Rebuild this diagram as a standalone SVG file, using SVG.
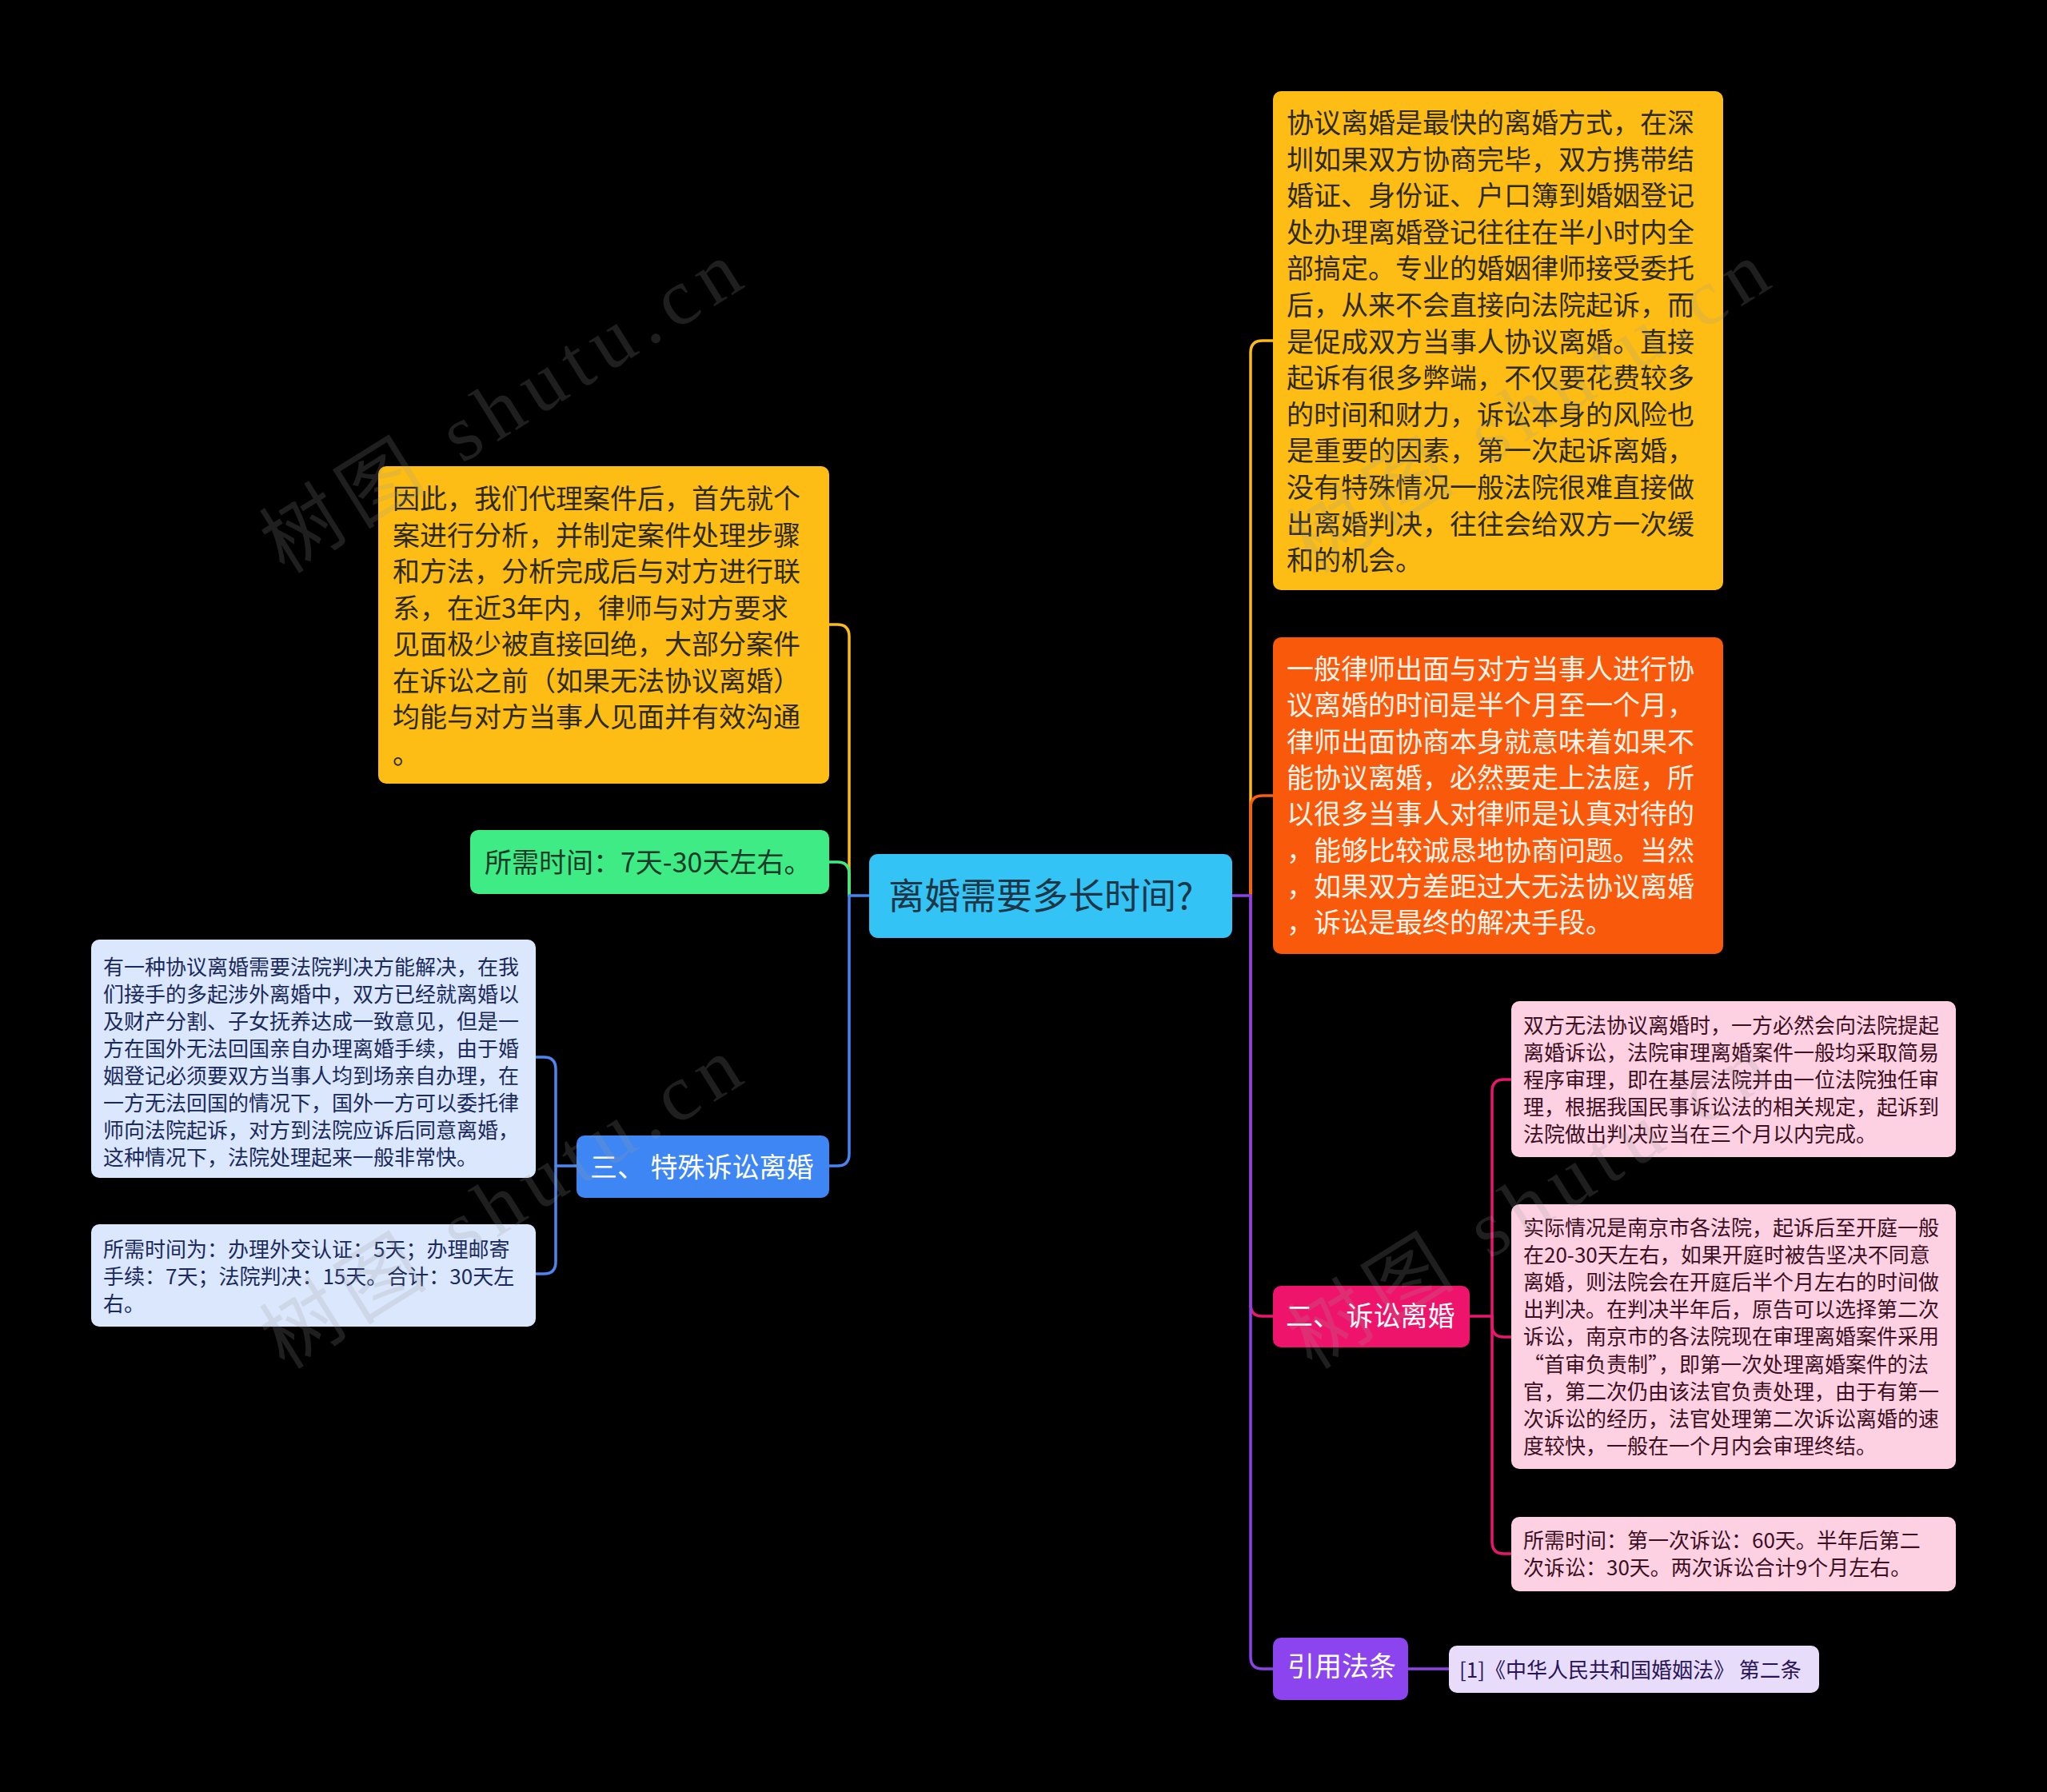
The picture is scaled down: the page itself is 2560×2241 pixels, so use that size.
<svg xmlns="http://www.w3.org/2000/svg" width="2560" height="2241" viewBox="0 0 2560 2241">
<style>
text{font-family:"Noto Sans CJK SC","Noto Sans",sans-serif}
.f45{font-size:45px}
.f34{font-size:34px}
.f26{font-size:26px}
.c{fill:none;stroke-width:3.5;stroke-linecap:round;stroke-linejoin:round}
.wm{font-family:"Liberation Serif","Noto Sans CJK SC",serif;font-size:100px;letter-spacing:12px;fill:#9a9a9a;fill-opacity:0.2}
</style>
<rect x="0" y="0" width="2560" height="2241" fill="#000000"/>
<g id="connectors">
  <path class="c" stroke="#F8BB1A" d="M1062,1120 V796 Q1062,781 1047,781 H1037"/>
  <path class="c" stroke="#3FEA85" d="M1062,1120 V1093 Q1062,1078 1047,1078 H1037"/>
  <path class="c" stroke="#4784F0" d="M1087,1120 H1062 V1443 Q1062,1458 1047,1458 H1037"/>
  <path class="c" stroke="#4C86EE" d="M721,1458 H695 V1337 Q695,1322 680,1322 H670"/>
  <path class="c" stroke="#4C86EE" d="M695,1458 V1578 Q695,1593 680,1593 H670"/>
  <path class="c" stroke="#F8BB1A" d="M1564,1120 V441 Q1564,426 1579,426 H1592"/>
  <path class="c" stroke="#F65E10" d="M1564,1120 V1010 Q1564,995 1579,995 H1592"/>
  <path class="c" stroke="#E8176C" d="M1564,1120 V1631 Q1564,1646 1579,1646 H1592"/>
  <path class="c" stroke="#8A44E6" d="M1541,1120 H1564 V2072 Q1564,2087 1579,2087 H1592"/>
  <path class="c" stroke="#E8176C" d="M1838,1646 H1866 V1365 Q1866,1350 1881,1350 H1890"/>
  <path class="c" stroke="#E8176C" d="M1866,1646 V1657 Q1866,1672 1881,1672 H1890"/>
  <path class="c" stroke="#E8176C" d="M1866,1646 V1928 Q1866,1943 1881,1943 H1890"/>
  <path class="c" stroke="#8A44E6" d="M1761,2087 H1812"/>
</g>
<g id="root">
  <rect x="1087" y="1068" width="454" height="105" rx="11" fill="#33C3F4"/>
  <text class="f45" x="1111" y="1137" fill="#1E3646">离婚需要多长时间?</text>
</g>
<g id="n-yellow-right">
  <rect x="1592" y="114" width="563" height="624" rx="10" fill="#FDBD14"/>
  <text class="f34" fill="#2E2A1E">
    <tspan x="1609" y="166">协议离婚是最快的离婚方式，在深</tspan>
    <tspan x="1609" y="211.6">圳如果双方协商完毕，双方携带结</tspan>
    <tspan x="1609" y="257.2">婚证、身份证、户口簿到婚姻登记</tspan>
    <tspan x="1609" y="302.8">处办理离婚登记往往在半小时内全</tspan>
    <tspan x="1609" y="348.4">部搞定。专业的婚姻律师接受委托</tspan>
    <tspan x="1609" y="394">后，从来不会直接向法院起诉，而</tspan>
    <tspan x="1609" y="439.6">是促成双方当事人协议离婚。直接</tspan>
    <tspan x="1609" y="485.2">起诉有很多弊端，不仅要花费较多</tspan>
    <tspan x="1609" y="530.8">的时间和财力，诉讼本身的风险也</tspan>
    <tspan x="1609" y="576.4">是重要的因素，第一次起诉离婚，</tspan>
    <tspan x="1609" y="622">没有特殊情况一般法院很难直接做</tspan>
    <tspan x="1609" y="667.6">出离婚判决，往往会给双方一次缓</tspan>
    <tspan x="1609" y="713.2">和的机会。</tspan>
  </text>
</g>
<g id="n-orange">
  <rect x="1592" y="797" width="563" height="396" rx="10" fill="#F9590B"/>
  <text class="f34" fill="#FFF4EA">
    <tspan x="1609" y="849">一般律师出面与对方当事人进行协</tspan>
    <tspan x="1609" y="894.3">议离婚的时间是半个月至一个月，</tspan>
    <tspan x="1609" y="939.6">律师出面协商本身就意味着如果不</tspan>
    <tspan x="1609" y="984.9">能协议离婚，必然要走上法庭，所</tspan>
    <tspan x="1609" y="1030.2">以很多当事人对律师是认真对待的</tspan>
    <tspan x="1609" y="1075.5">，能够比较诚恳地协商问题。当然</tspan>
    <tspan x="1609" y="1120.8">，如果双方差距过大无法协议离婚</tspan>
    <tspan x="1609" y="1166.1">，诉讼是最终的解决手段。</tspan>
  </text>
</g>
<g id="n-yellow-left">
  <rect x="473" y="583" width="564" height="397" rx="10" fill="#FDBD14"/>
  <text class="f34" fill="#2E2A1E">
    <tspan x="491" y="636">因此，我们代理案件后，首先就个</tspan>
    <tspan x="491" y="681.5">案进行分析，并制定案件处理步骤</tspan>
    <tspan x="491" y="727">和方法，分析完成后与对方进行联</tspan>
    <tspan x="491" y="772.5">系，在近3年内，律师与对方要求</tspan>
    <tspan x="491" y="818">见面极少被直接回绝，大部分案件</tspan>
    <tspan x="491" y="863.5">在诉讼之前（如果无法协议离婚）</tspan>
    <tspan x="491" y="909">均能与对方当事人见面并有效沟通</tspan>
    <tspan x="491" y="954.5">。</tspan>
  </text>
</g>
<g id="n-green">
  <rect x="588" y="1038" width="449" height="80" rx="10" fill="#3FEB84"/>
  <text class="f34" x="606" y="1091" fill="#1B3A28">所需时间：7天-30天左右。</text>
</g>
<g id="n-special">
  <rect x="721" y="1420" width="316" height="78" rx="10" fill="#3E86F3"/>
  <text class="f34" x="738" y="1472" fill="#FFFFFF" xml:space="preserve">三、 特殊诉讼离婚</text>
</g>
<g id="n-lb1">
  <rect x="114" y="1175" width="556" height="298" rx="10" fill="#DAE7FC"/>
  <text class="f26" fill="#1B2A5C">
    <tspan x="129" y="1219">有一种协议离婚需要法院判决方能解决，在我</tspan>
    <tspan x="129" y="1253">们接手的多起涉外离婚中，双方已经就离婚以</tspan>
    <tspan x="129" y="1287">及财产分割、子女抚养达成一致意见，但是一</tspan>
    <tspan x="129" y="1321">方在国外无法回国亲自办理离婚手续，由于婚</tspan>
    <tspan x="129" y="1355">姻登记必须要双方当事人均到场亲自办理，在</tspan>
    <tspan x="129" y="1389">一方无法回国的情况下，国外一方可以委托律</tspan>
    <tspan x="129" y="1423">师向法院起诉，对方到法院应诉后同意离婚，</tspan>
    <tspan x="129" y="1457">这种情况下，法院处理起来一般非常快。</tspan>
  </text>
</g>
<g id="n-lb2">
  <rect x="114" y="1531" width="556" height="128" rx="10" fill="#DAE7FC"/>
  <text class="f26" fill="#1B2A5C">
    <tspan x="129" y="1572">所需时间为：办理外交认证：5天；办理邮寄</tspan>
    <tspan x="129" y="1606">手续：7天；法院判决：15天。合计：30天左</tspan>
    <tspan x="129" y="1640">右。</tspan>
  </text>
</g>
<g id="n-litigation">
  <rect x="1592" y="1608" width="246" height="77" rx="10" fill="#EF146B"/>
  <text class="f34" x="1608" y="1658" fill="#FFFFFF" xml:space="preserve">二、 诉讼离婚</text>
</g>
<g id="n-pink1">
  <rect x="1890" y="1252" width="556" height="195" rx="10" fill="#FDD1E2"/>
  <text class="f26" fill="#3C0F22">
    <tspan x="1905" y="1292">双方无法协议离婚时，一方必然会向法院提起</tspan>
    <tspan x="1905" y="1326">离婚诉讼，法院审理离婚案件一般均采取简易</tspan>
    <tspan x="1905" y="1360">程序审理，即在基层法院并由一位法院独任审</tspan>
    <tspan x="1905" y="1394">理，根据我国民事诉讼法的相关规定，起诉到</tspan>
    <tspan x="1905" y="1428">法院做出判决应当在三个月以内完成。</tspan>
  </text>
</g>
<g id="n-pink2">
  <rect x="1890" y="1506" width="556" height="331" rx="10" fill="#FDD1E2"/>
  <text class="f26" fill="#3C0F22">
    <tspan x="1905" y="1545">实际情况是南京市各法院，起诉后至开庭一般</tspan>
    <tspan x="1905" y="1579.1">在20-30天左右，如果开庭时被告坚决不同意</tspan>
    <tspan x="1905" y="1613.2">离婚，则法院会在开庭后半个月左右的时间做</tspan>
    <tspan x="1905" y="1647.3">出判决。在判决半年后，原告可以选择第二次</tspan>
    <tspan x="1905" y="1681.4">诉讼，南京市的各法院现在审理离婚案件采用</tspan>
    <tspan x="1905" y="1715.5">“首审负责制”，即第一次处理离婚案件的法</tspan>
    <tspan x="1905" y="1749.6">官，第二次仍由该法官负责处理，由于有第一</tspan>
    <tspan x="1905" y="1783.7">次诉讼的经历，法官处理第二次诉讼离婚的速</tspan>
    <tspan x="1905" y="1817.8">度较快，一般在一个月内会审理终结。</tspan>
  </text>
</g>
<g id="n-pink3">
  <rect x="1890" y="1897" width="556" height="93" rx="10" fill="#FDD1E2"/>
  <text class="f26" fill="#3C0F22">
    <tspan x="1905" y="1936">所需时间：第一次诉讼：60天。半年后第二</tspan>
    <tspan x="1905" y="1970">次诉讼：30天。两次诉讼合计9个月左右。</tspan>
  </text>
</g>
<g id="n-law">
  <rect x="1592" y="2048" width="169" height="78" rx="10" fill="#8B44EE"/>
  <text class="f34" x="1610" y="2096" fill="#FFFFFF">引用法条</text>
</g>
<g id="n-law-ref">
  <rect x="1812" y="2058" width="463" height="59" rx="10" fill="#E7DDFB"/>
  <text class="f26" x="1825" y="2098" fill="#2A1458">[1]《中华人民共和国婚姻法》 第二条</text>
</g>
<g id="watermarks">
  <text class="wm" text-anchor="middle" transform="translate(650,535) rotate(-32)">树图 shutu.cn</text>
  <text class="wm" text-anchor="middle" transform="translate(1935,535) rotate(-32)">树图 shutu.cn</text>
  <text class="wm" text-anchor="middle" transform="translate(650,1530) rotate(-32)">树图 shutu.cn</text>
  <text class="wm" text-anchor="middle" transform="translate(1935,1530) rotate(-32)">树图 shutu.cn</text>
</g>
</svg>
